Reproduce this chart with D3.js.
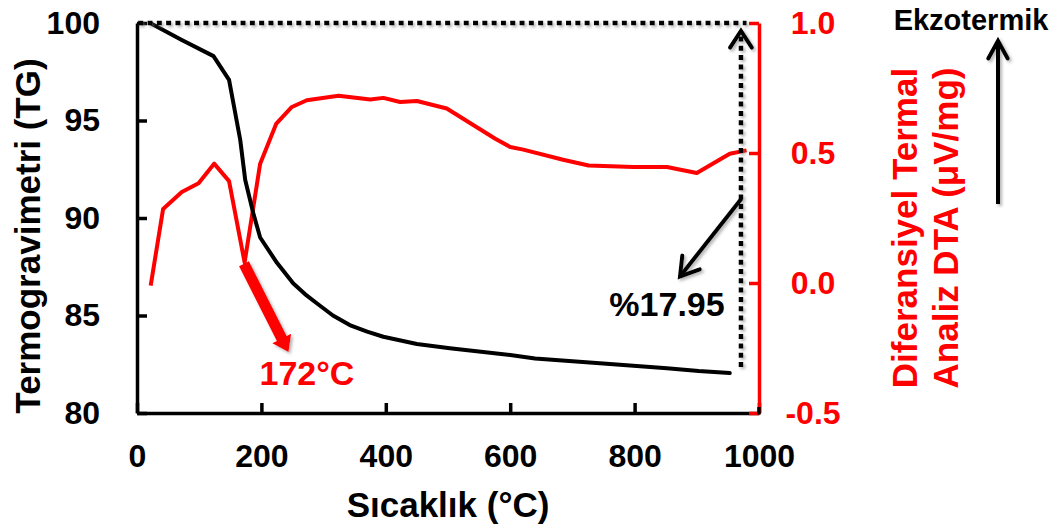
<!DOCTYPE html>
<html>
<head>
<meta charset="utf-8">
<script src="https://cdn.jsdelivr.net/npm/d3@7"></script>
<style>
  html, body { margin: 0; padding: 0; background: #fff; }
  svg { display: block; font-family: "Liberation Sans", Arial, sans-serif; font-weight: bold; }
</style>
</head>
<body>
<svg id="chart" width="1061" height="524"></svg>
<script>
// ---- data ----
const tgTemps = [21, 72, 123, 148, 166, 174, 187, 198, 225, 251, 270, 289, 315, 342, 370, 396, 450, 503, 600, 640, 744, 852, 903, 953];
const tgValues = [100, 99.13, 98.3, 97.08, 94.0, 91.95, 90.24, 89.0, 87.7, 86.65, 86.1, 85.63, 85.0, 84.51, 84.17, 83.91, 83.54, 83.32, 82.97, 82.8, 82.55, 82.29, 82.15, 82.05];

const dtaTemps = [22, 42, 72, 99, 124, 148, 173, 198, 224, 249, 273, 324, 375, 396, 423, 450, 498, 576, 600, 621, 685, 726, 798, 852, 900, 953, 980];
const dtaValues = [-0.01, 0.285, 0.35, 0.384, 0.459, 0.392, 0.079, 0.459, 0.613, 0.677, 0.703, 0.72, 0.706, 0.712, 0.696, 0.70, 0.671, 0.555, 0.523, 0.513, 0.474, 0.452, 0.446, 0.446, 0.423, 0.497, 0.51];

const xTicks = [0, 200, 400, 600, 800, 1000];
const leftTicks = [80, 85, 90, 95, 100];
const rightTicks = [-0.5, 0.0, 0.5, 1.0];

const xTitle = "Sıcaklık (°C)";
const leftTitle = "Termogravimetri (TG)";
const rightTitle = ["Diferansiyel Termal", "Analiz DTA (μV/mg)"];
const massLoss = "%17.95";
const peakLabel = "172°C";
const exoLabel = "Ekzotermik";

// ---- scales ----
const svg = d3.select("#chart");
const x = d3.scaleLinear().domain([0, 1000]).range([137, 759]);
const yL = d3.scaleLinear().domain([80, 100]).range([413, 23]);
const yR = d3.scaleLinear().domain([-0.5, 1.0]).range([413, 23]);

// shadow filter
const defs = svg.append("defs");
const f = defs.append("filter").attr("id", "shadow").attr("x", "-20%").attr("y", "-20%").attr("width", "140%").attr("height", "140%");
f.append("feDropShadow").attr("dx", 2).attr("dy", 2).attr("stdDeviation", 1.5)
  .attr("flood-color", "#777").attr("flood-opacity", 0.55);

// ---- axes ----
const tickFont = 32;
const gx = svg.append("g").attr("transform", `translate(0,413)`)
  .call(d3.axisBottom(x).tickValues(xTicks).tickSizeInner(-10).tickSizeOuter(0).tickPadding(31).tickFormat(d3.format("d")));
gx.select(".domain").attr("stroke", "#000").attr("stroke-width", 3.5);
gx.selectAll(".tick line").attr("stroke", "#000").attr("stroke-width", 3.5);
gx.selectAll(".tick text").attr("fill", "#000").style("font-size", tickFont + "px").style("font-family", "Liberation Sans, Arial, sans-serif").style("font-weight", "bold");

const gl = svg.append("g").attr("transform", `translate(137,0)`)
  .call(d3.axisLeft(yL).tickValues(leftTicks).tickSizeInner(-10).tickSizeOuter(0).tickPadding(37).tickFormat(d3.format("d")));
gl.select(".domain").attr("stroke", "#000").attr("stroke-width", 3.5);
gl.selectAll(".tick line").attr("stroke", "#000").attr("stroke-width", 3.5);
gl.selectAll(".tick text").attr("fill", "#000").style("font-size", tickFont + "px").style("font-family", "Liberation Sans, Arial, sans-serif").style("font-weight", "bold");

const gr = svg.append("g").attr("transform", `translate(759,0)`)
  .call(d3.axisRight(yR).tickValues(rightTicks).tickSizeInner(-10).tickSizeOuter(0).tickFormat(d => d.toFixed(1)));
gr.select(".domain").attr("stroke", "#ff0000").attr("stroke-width", 3.5);
gr.selectAll(".tick line").attr("stroke", "#ff0000").attr("stroke-width", 3.5);
gr.selectAll(".tick text").attr("fill", "#ff0000").attr("x", 54).attr("text-anchor", "middle")
  .style("font-size", tickFont + "px").style("font-family", "Liberation Sans, Arial, sans-serif").style("font-weight", "bold");
// black corner at bottom of right axis
svg.append("line").attr("x1", 759).attr("x2", 759).attr("y1", yR(-0.5) - 6).attr("y2", yR(-0.5) + 1.5)
  .attr("stroke", "#000").attr("stroke-width", 3.5);

// ---- titles ----
svg.append("text").attr("x", 448).attr("y", 517).attr("text-anchor", "middle")
  .style("font-size", "35px").attr("fill", "#000").text(xTitle);
svg.append("text").attr("transform", "translate(40,236) rotate(-90)").attr("text-anchor", "middle")
  .style("font-size", "35px").attr("fill", "#000").text(leftTitle);
svg.append("text").attr("transform", "translate(917,228) rotate(-90)").attr("text-anchor", "middle")
  .style("font-size", "35px").attr("fill", "#ff0000").text(rightTitle[0]);
svg.append("text").attr("transform", "translate(958,228) rotate(-90)").attr("text-anchor", "middle")
  .style("font-size", "35px").attr("fill", "#ff0000").text(rightTitle[1]);

// ---- data lines ----
const tgData = tgTemps.map((t, i) => [t, tgValues[i]]);
const dtaData = dtaTemps.map((t, i) => [t, dtaValues[i]]);

svg.append("path").datum(dtaData)
  .attr("d", d3.line().x(d => x(d[0])).y(d => yR(d[1])))
  .attr("fill", "none").attr("stroke", "#ff0000").attr("stroke-width", 4).attr("stroke-linejoin", "round");
svg.append("path").datum(tgData)
  .attr("d", d3.line().x(d => x(d[0])).y(d => yL(d[1])))
  .attr("fill", "none").attr("stroke", "#000").attr("stroke-width", 4).attr("stroke-linejoin", "round").attr("stroke-linecap", "round");

// ---- annotations ----
function chevron(g, tip, from, len, angDeg, color, w) {
  const dx = from[0] - tip[0], dy = from[1] - tip[1];
  const L = Math.hypot(dx, dy), ux = dx / L, uy = dy / L;
  const a = angDeg * Math.PI / 180;
  const w1 = [tip[0] + len * (ux * Math.cos(a) - uy * Math.sin(a)), tip[1] + len * (ux * Math.sin(a) + uy * Math.cos(a))];
  const w2 = [tip[0] + len * (ux * Math.cos(-a) - uy * Math.sin(-a)), tip[1] + len * (ux * Math.sin(-a) + uy * Math.cos(-a))];
  g.append("path").attr("d", `M${w1[0]},${w1[1]}L${tip[0]},${tip[1]}L${w2[0]},${w2[1]}`)
    .attr("fill", "none").attr("stroke", color).attr("stroke-width", w).attr("stroke-linecap", "round").attr("stroke-linejoin", "miter");
}

const ann = svg.append("g").attr("filter", "url(#shadow)");
// horizontal dotted line at 100 %
ann.append("line").attr("x1", x(2)).attr("x2", x(980)).attr("y1", yL(100)).attr("y2", yL(100))
  .attr("stroke", "#000").attr("stroke-width", 4.5).attr("stroke-dasharray", "5,4.3");
// vertical dotted arrow
ann.append("line").attr("x1", x(971)).attr("x2", x(971)).attr("y1", yL(82.36)).attr("y2", yL(99.5))
  .attr("stroke", "#000").attr("stroke-width", 4.5).attr("stroke-dasharray", "5,4.3");
chevron(ann, [x(971), yL(99.6)], [x(971), yL(95)], 20, 33, "#000", 4);

// mass loss arrow
const mStart = [x(972), yL(91.0)], mTip = [x(873), yL(87.0)];
ann.append("line").attr("x1", mStart[0]).attr("y1", mStart[1]).attr("x2", mTip[0]).attr("y2", mTip[1])
  .attr("stroke", "#000").attr("stroke-width", 4);
chevron(ann, mTip, mStart, 21, 32, "#000", 4);

// red peak arrow (filled)
const rStart = [x(172), yR(0.074)], rTip = [x(243.6), yL(83.13)];
{
  const dx = rTip[0] - rStart[0], dy = rTip[1] - rStart[1];
  const L = Math.hypot(dx, dy), ux = dx / L, uy = dy / L, px = -uy, py = ux;
  const hs = 5.5, hh = 10.5, hl = 15;
  const bx = rTip[0] - ux * hl, by = rTip[1] - uy * hl;
  const pts = [
    [rStart[0] + px * hs, rStart[1] + py * hs],
    [bx + px * hs, by + py * hs],
    [bx + px * hh, by + py * hh],
    rTip,
    [bx - px * hh, by - py * hh],
    [bx - px * hs, by - py * hs],
    [rStart[0] - px * hs, rStart[1] - py * hs]
  ];
  ann.append("path").attr("d", "M" + pts.map(p => p.join(",")).join("L") + "Z").attr("fill", "#ff0000");
}

// exo arrow
ann.append("line").attr("x1", 998).attr("x2", 998).attr("y1", 204).attr("y2", 42)
  .attr("stroke", "#000").attr("stroke-width", 4);
chevron(ann, [998, 41], [998, 100], 20, 29, "#000", 4);

// labels
svg.append("text").attr("x", 667).attr("y", 316).attr("text-anchor", "middle")
  .style("font-size", "34px").attr("fill", "#000").text(massLoss);
svg.append("text").attr("x", 307).attr("y", 385).attr("text-anchor", "middle")
  .style("font-size", "34px").attr("fill", "#ff0000").text(peakLabel);
svg.append("text").attr("x", 971).attr("y", 30).attr("text-anchor", "middle")
  .style("font-size", "29px").attr("fill", "#000").text(exoLabel);
</script>
</body>
</html>
